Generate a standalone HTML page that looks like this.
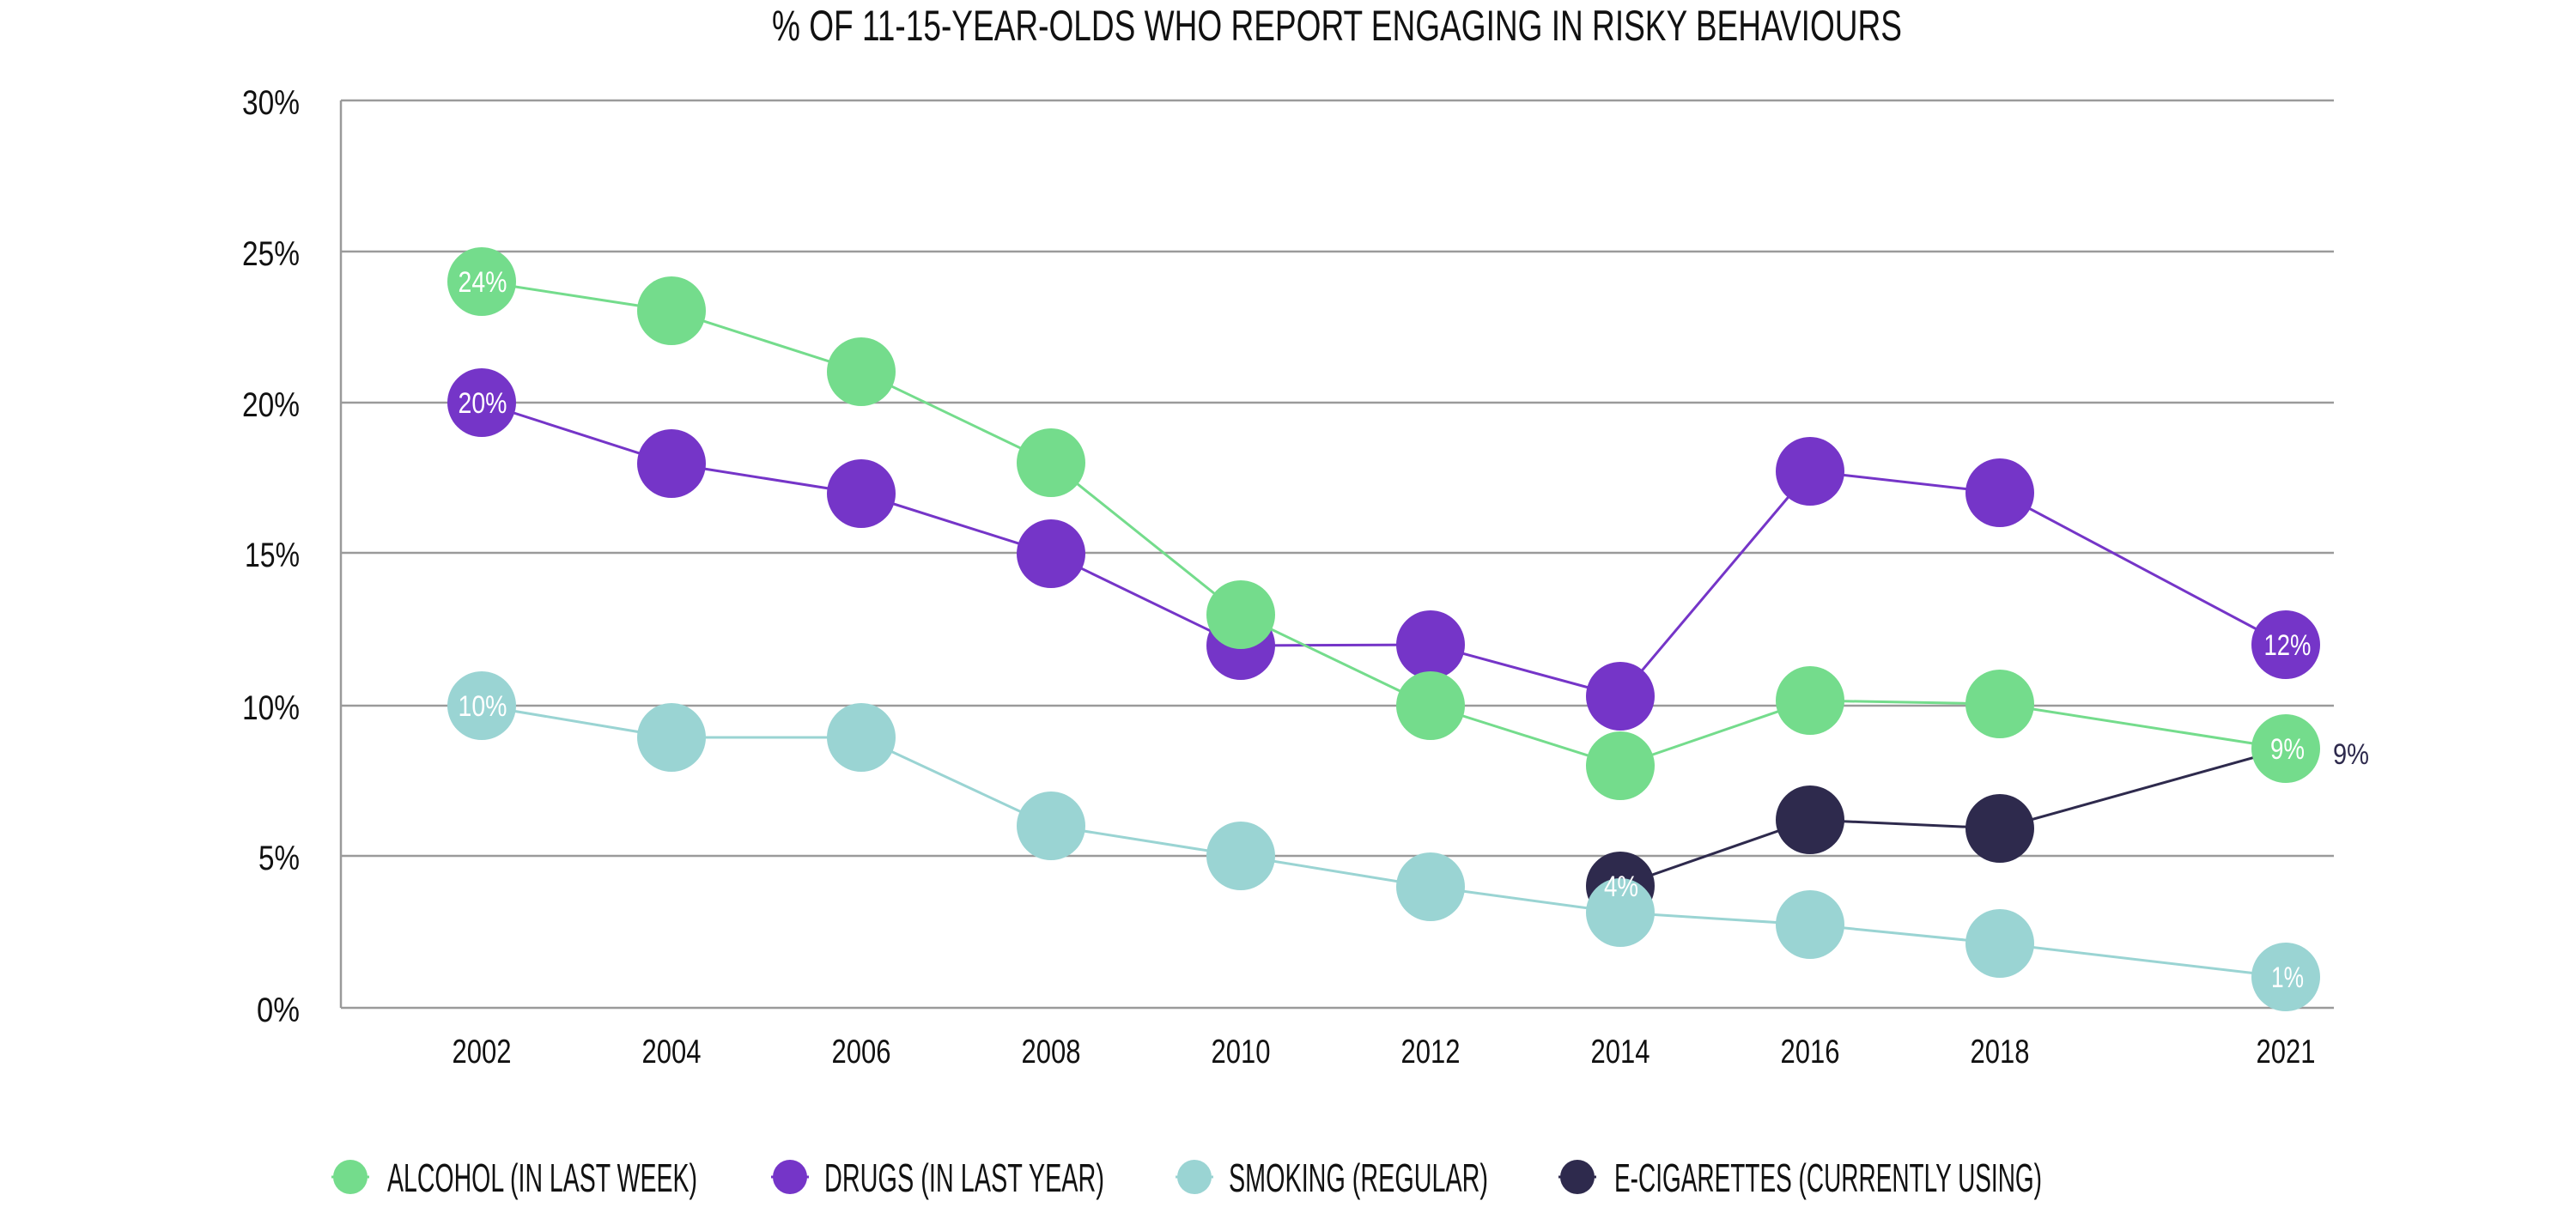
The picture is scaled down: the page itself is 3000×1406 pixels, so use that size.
<!DOCTYPE html>
<html><head><meta charset="utf-8"><style>html,body{margin:0;padding:0;background:#fff}svg{display:block}</style></head>
<body>
<svg width="3000" height="1406" viewBox="0 0 3000 1406" xmlns="http://www.w3.org/2000/svg" font-family="'Liberation Sans', sans-serif">
<rect width="3000" height="1406" fill="#fff"/>
<text x="899" y="47" font-size="50" textLength="1316" lengthAdjust="spacingAndGlyphs" fill="#111">% OF 11-15-YEAR-OLDS WHO REPORT ENGAGING IN RISKY BEHAVIOURS</text>
<g stroke="#9a9a9a" stroke-width="2.5">
<line x1="397" y1="117" x2="2718" y2="117"/>
<line x1="397" y1="293" x2="2718" y2="293"/>
<line x1="397" y1="469" x2="2718" y2="469"/>
<line x1="397" y1="644" x2="2718" y2="644"/>
<line x1="397" y1="822" x2="2718" y2="822"/>
<line x1="397" y1="997" x2="2718" y2="997"/>
<line x1="397" y1="1174" x2="2718" y2="1174"/>
<line x1="397" y1="117" x2="397" y2="1174"/>
</g>
<g font-size="40" fill="#111" text-anchor="end">
<text x="349" y="133" textLength="67" lengthAdjust="spacingAndGlyphs">30%</text>
<text x="349" y="309" textLength="67" lengthAdjust="spacingAndGlyphs">25%</text>
<text x="349" y="485" textLength="67" lengthAdjust="spacingAndGlyphs">20%</text>
<text x="349" y="660" textLength="64" lengthAdjust="spacingAndGlyphs">15%</text>
<text x="349" y="838" textLength="67" lengthAdjust="spacingAndGlyphs">10%</text>
<text x="349" y="1013" textLength="48" lengthAdjust="spacingAndGlyphs">5%</text>
<text x="349" y="1190" textLength="50" lengthAdjust="spacingAndGlyphs">0%</text>
</g>
<g font-size="39" fill="#111" text-anchor="middle">
<text x="561" y="1238" textLength="69" lengthAdjust="spacingAndGlyphs">2002</text>
<text x="782" y="1238" textLength="69" lengthAdjust="spacingAndGlyphs">2004</text>
<text x="1003" y="1238" textLength="69" lengthAdjust="spacingAndGlyphs">2006</text>
<text x="1224" y="1238" textLength="69" lengthAdjust="spacingAndGlyphs">2008</text>
<text x="1445" y="1238" textLength="69" lengthAdjust="spacingAndGlyphs">2010</text>
<text x="1666" y="1238" textLength="69" lengthAdjust="spacingAndGlyphs">2012</text>
<text x="1887" y="1238" textLength="69" lengthAdjust="spacingAndGlyphs">2014</text>
<text x="2108" y="1238" textLength="69" lengthAdjust="spacingAndGlyphs">2016</text>
<text x="2329" y="1238" textLength="69" lengthAdjust="spacingAndGlyphs">2018</text>
<text x="2662" y="1238" textLength="69" lengthAdjust="spacingAndGlyphs">2021</text>
</g>
<!-- e-cig -->
<polyline fill="none" stroke="#2e2a4d" stroke-width="3" points="1887,1032 2108,955 2329,965 2662,872"/>
<g fill="#2e2a4d"><circle cx="1887" cy="1032" r="40"/><circle cx="2108" cy="955" r="40"/><circle cx="2329" cy="965" r="40"/></g>
<!-- drugs -->
<polyline fill="none" stroke="#7535c8" stroke-width="3" points="561,469 782,540 1003,575 1224,645 1445,752 1666,751 1887,811 2108,549 2329,574 2662,751"/>
<g fill="#7535c8"><circle cx="561" cy="469" r="40"/><circle cx="782" cy="540" r="40"/><circle cx="1003" cy="575" r="40"/><circle cx="1224" cy="645" r="40"/><circle cx="1445" cy="752" r="40"/><circle cx="1666" cy="751" r="40"/><circle cx="1887" cy="811" r="40"/><circle cx="2108" cy="549" r="40"/><circle cx="2329" cy="574" r="40"/><circle cx="2662" cy="751" r="40"/></g>
<!-- alcohol -->
<polyline fill="none" stroke="#74dc8c" stroke-width="3" points="561,328 782,362 1003,433 1224,539 1445,716 1666,822 1887,892 2108,816 2329,820 2662,872"/>
<g fill="#74dc8c"><circle cx="561" cy="328" r="40"/><circle cx="782" cy="362" r="40"/><circle cx="1003" cy="433" r="40"/><circle cx="1224" cy="539" r="40"/><circle cx="1445" cy="716" r="40"/><circle cx="1666" cy="822" r="40"/><circle cx="1887" cy="892" r="40"/><circle cx="2108" cy="816" r="40"/><circle cx="2329" cy="820" r="40"/><circle cx="2662" cy="872" r="40"/></g>
<!-- smoking -->
<polyline fill="none" stroke="#9ad4d3" stroke-width="3" points="561,822 782,859 1003,859 1224,962 1445,997 1666,1033 1887,1063 2108,1077 2329,1099 2662,1138"/>
<g fill="#9ad4d3"><circle cx="561" cy="822" r="40"/><circle cx="782" cy="859" r="40"/><circle cx="1003" cy="859" r="40"/><circle cx="1224" cy="962" r="40"/><circle cx="1445" cy="997" r="40"/><circle cx="1666" cy="1033" r="40"/><circle cx="1887" cy="1063" r="40"/><circle cx="2108" cy="1077" r="40"/><circle cx="2329" cy="1099" r="40"/><circle cx="2662" cy="1138" r="40"/></g>
<!-- data labels -->
<g font-size="34" fill="#fff" text-anchor="middle">
<text x="562" y="340" textLength="57" lengthAdjust="spacingAndGlyphs">24%</text>
<text x="562" y="481" textLength="57" lengthAdjust="spacingAndGlyphs">20%</text>
<text x="562" y="834" textLength="57" lengthAdjust="spacingAndGlyphs">10%</text>
<text x="1888" y="1044" textLength="40" lengthAdjust="spacingAndGlyphs">4%</text>
<text x="2664" y="763" textLength="55" lengthAdjust="spacingAndGlyphs">12%</text>
<text x="2664" y="884" textLength="40" lengthAdjust="spacingAndGlyphs">9%</text>
<text x="2664" y="1150" textLength="38" lengthAdjust="spacingAndGlyphs">1%</text>
</g>
<text x="2717" y="890" font-size="34" fill="#2e2a4d" textLength="42" lengthAdjust="spacingAndGlyphs">9%</text>
<!-- legend -->
<g stroke-width="3">
<line x1="386" y1="1371" x2="430" y2="1371" stroke="#74dc8c"/><circle cx="408" cy="1371" r="20" fill="#74dc8c"/>
<line x1="898" y1="1371" x2="942" y2="1371" stroke="#7535c8"/><circle cx="920" cy="1371" r="20" fill="#7535c8"/>
<line x1="1369" y1="1371" x2="1413" y2="1371" stroke="#9ad4d3"/><circle cx="1391" cy="1371" r="20" fill="#9ad4d3"/>
<line x1="1815" y1="1371" x2="1859" y2="1371" stroke="#2e2a4d"/><circle cx="1837" cy="1371" r="20" fill="#2e2a4d"/>
</g>
<g font-size="46" fill="#111">
<text x="451" y="1388" textLength="361" lengthAdjust="spacingAndGlyphs">ALCOHOL (IN LAST WEEK)</text>
<text x="960" y="1388" textLength="326" lengthAdjust="spacingAndGlyphs">DRUGS (IN LAST YEAR)</text>
<text x="1431" y="1388" textLength="302" lengthAdjust="spacingAndGlyphs">SMOKING (REGULAR)</text>
<text x="1880" y="1388" textLength="498" lengthAdjust="spacingAndGlyphs">E-CIGARETTES (CURRENTLY USING)</text>
</g>
</svg>
</body></html>
